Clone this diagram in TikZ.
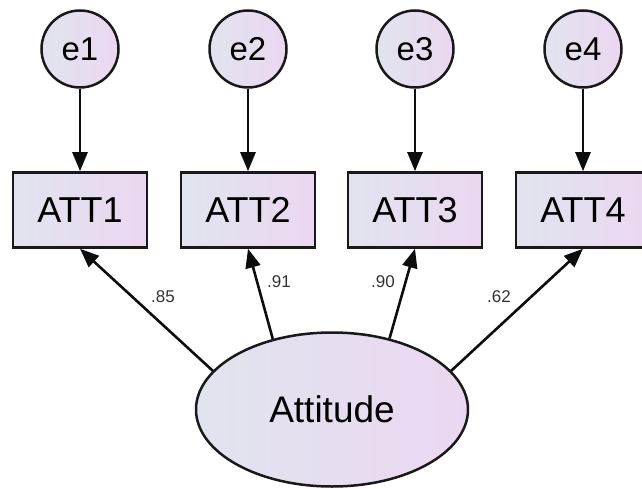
\documentclass[tikz,border=0pt]{standalone}
\usepackage{fontspec}
\setmainfont{Liberation Sans}
\usetikzlibrary{shapes.geometric,arrows.meta}
\definecolor{shL}{HTML}{E1E4EF}
\definecolor{shR}{HTML}{EBD7F1}
\tikzset{
  x=1pt, y=-1pt,
  fillgrad/.style={left color=shL, right color=shR, draw=black!90, line width=2.5pt},
  errc/.style={fillgrad, circle, minimum size=77pt, inner sep=0pt, font=\fontsize{33}{33}\selectfont},
  obsbox/.style={fillgrad, rectangle, minimum width=134pt, minimum height=75pt, inner sep=0pt, font=\fontsize{36}{36}\selectfont},
  latent/.style={fillgrad, ellipse, minimum width=272pt, minimum height=154pt, inner sep=0pt, font=\fontsize{37}{37}\selectfont},
  path/.style={draw=black!95, line width=2.6pt, -{Triangle[length=19pt,width=15pt]}},
  wlabel/.style={font=\fontsize{17}{17}\selectfont, text=black!80, inner sep=0pt}
}
\begin{document}
\begin{tikzpicture}
\useasboundingbox (0,0) rectangle (642,489);
\node[errc] (e1) at (80,49) {e1};
\node[errc] (e2) at (248,49) {e2};
\node[errc] (e3) at (415,49) {e3};
\node[errc] (e4) at (583,49) {e4};
\node[obsbox] (a1) at (80,210) {ATT1};
\node[obsbox] (a2) at (248,210) {ATT2};
\node[obsbox] (a3) at (415,210) {ATT3};
\node[obsbox] (a4) at (583,210) {ATT4};
\node[latent] (att) at (332,409.5) {Attitude};
\draw[path] (e1) -- (a1);
\draw[path] (e2) -- (a2);
\draw[path] (e3) -- (a3);
\draw[path] (e4) -- (a4);
\draw[path] (att.162) -- (a1.south);
\draw[path] (att.130) -- (a2.south);
\draw[path] (att.51) -- (a3.south);
\draw[path] (att.18) -- (a4.south);
\node[wlabel] (l1) at (163,297) {.85};
\node[wlabel] (l2) at (279,282) {.91};
\node[wlabel] (l3) at (383,282) {.90};
\node[wlabel] (l4) at (499,297) {.62};
\end{tikzpicture}
\end{document}
